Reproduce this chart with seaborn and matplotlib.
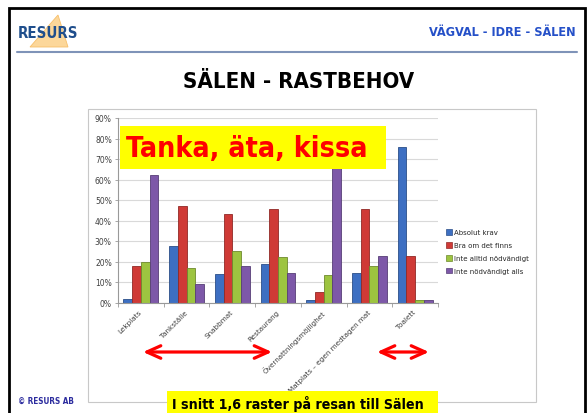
import numpy as np
import pandas as pd
import matplotlib
matplotlib.use('Agg')
import matplotlib.pyplot as plt
import matplotlib.colors as mcolors
import seaborn as sns
from matplotlib.patches import Rectangle, Polygon, FancyArrowPatch, Patch
from matplotlib.lines import Line2D
from matplotlib.ticker import PercentFormatter, FixedLocator, MultipleLocator

# andelar i procent
kategorier = ['Lekplats', 'Tankställe', 'Snabbmat', 'Restaurang',
              'Övernattningsmöjlighet', 'Matplats – egen medtagen mat', 'Toalett']
svar = ['Absolut krav', 'Bra om det finns', 'Inte alltid nödvändigt', 'Inte nödvändigt alls']
absolut_krav = [1.5, 27.5, 14, 19, 1, 14.5, 76]
bra_om_det_finns = [18, 47, 43, 45.5, 5, 45.5, 22.5]
inte_alltid = [20, 17, 25, 22, 13.5, 18, 1]
inte_alls = [62, 9, 18, 14.5, 80, 22.5, 1.3]
farger = ['#3d6fc2', '#cf3a36', '#9dc440', '#7d58a8']

W, H = 587, 414


def fx(x):
    return x / W


def fy(y):
    return 1 - y / H


def darker(c, f=0.7):
    r, g, b = mcolors.to_rgb(c)
    return (r * f, g * f, b * f)


def fit_width(txt, px):
    """Scale font size so the text is px pixels wide."""
    fig.canvas.draw()
    bb = txt.get_window_extent()
    txt.set_fontsize(txt.get_fontsize() * px / bb.width)


df = pd.DataFrame({
    'kategori': kategorier * 4,
    'svar': np.repeat(svar, len(kategorier)),
    'andel': absolut_krav + bra_om_det_finns + inte_alltid + inte_alls,
})

sns.set_theme(style='white')
plt.rcParams['font.family'] = ['DejaVu Sans']

fig = plt.figure(figsize=(W / 100, H / 100), dpi=100)
ax = fig.add_axes([fx(118), fy(303.5), fx(438) - fx(118), (303.5 - 119) / H])

sns.barplot(data=df, x='kategori', y='andel', hue='svar', order=kategorier,
            hue_order=svar, palette=farger, saturation=1, width=0.76,
            errorbar=None, legend=False, ax=ax)
for cont in ax.containers:
    for bar in cont:
        bar.set_edgecolor(darker(bar.get_facecolor()))
        bar.set_linewidth(0.6)

ax.set_xlim(-0.5, len(kategorier) - 0.5)
ax.set_ylim(0, 90)
ax.yaxis.set_major_locator(MultipleLocator(10))
ax.yaxis.set_major_formatter(PercentFormatter(100, decimals=0))
ax.grid(axis='y', color='#d9d9d9', lw=0.8)
ax.set_axisbelow(True)
ax.set_xlabel('')
ax.set_ylabel('')
for s in ['top', 'right']:
    ax.spines[s].set_visible(False)
for s in ['left', 'bottom']:
    ax.spines[s].set_color('#999999')
    ax.spines[s].set_linewidth(0.8)

ax.tick_params(axis='y', left=True, length=2.5, width=0.6, color='#999999',
               labelsize=5.5, labelcolor='#404040', pad=2)
ax.xaxis.set_minor_locator(FixedLocator(np.arange(-0.5, len(kategorier), 1)))
ax.tick_params(axis='x', which='minor', bottom=True, length=3, width=0.6, color='#999999')
ax.tick_params(axis='x', which='major', length=0, labelsize=5.2,
               labelcolor='#404040', pad=6)
for lbl in ax.get_xticklabels():
    lbl.set_rotation(45)
    lbl.set_ha('right')
    lbl.set_va('center')
    lbl.set_rotation_mode('anchor')

fig.legend(handles=[Patch(facecolor=c, edgecolor=darker(c), lw=0.5) for c in farger],
           labels=svar, loc='upper left', bbox_to_anchor=(fx(446), fy(230)),
           frameon=False, fontsize=5, handlelength=0.9, handleheight=0.9,
           handletextpad=0.3, labelspacing=0.95, borderpad=0, borderaxespad=0)

# ram runt bilden och diagrammet
fig.add_artist(Rectangle((fx(9), fy(420)), fx(585) - fx(9), (420 - 9) / H,
                         transform=fig.transFigure, fill=False, ec='black', lw=2, zorder=1))
fig.add_artist(Rectangle((fx(88), fy(403)), fx(536) - fx(88), (403 - 110) / H,
                         transform=fig.transFigure, fill=False, ec='#c8c8c8', lw=0.8, zorder=1))

# sidhuvud
fig.add_artist(Polygon([(fx(58), fy(16)), (fx(30), fy(48)), (fx(68), fy(48))],
                       closed=True, transform=fig.transFigure, fc='#fcd79a',
                       ec='#f7bf6a', lw=0.6, zorder=2))
t_logo = fig.text(fx(18), fy(34), 'RESURS', color='#1f4e8c', fontsize=10,
                  fontweight='bold', fontstretch='condensed', va='center', zorder=3)
t_head = fig.text(fx(576), fy(32), 'VÄGVAL - IDRE - SÄLEN', color='#2550c8', fontsize=8,
                  fontweight='bold', fontstretch='condensed', ha='right', va='center')
fig.add_artist(Line2D([fx(17), fx(577)], [fy(53), fy(53)], transform=fig.transFigure,
                      color='#7f93b8', lw=1.5))
t_title = fig.text(fx(299), fy(82), 'SÄLEN - RASTBEHOV', color='black', fontsize=16,
                   fontweight='bold', fontstretch='condensed', ha='center', va='center')

# gul rubrikruta i diagrammet
fig.add_artist(Rectangle((fx(120), fy(170)), fx(386) - fx(120), (170 - 127) / H,
                         transform=fig.transFigure, fc='#ffff00', ec='none', zorder=5))
t_tanka = fig.text(fx(126), fy(149), 'Tanka, äta, kissa', color='#ff0000', fontsize=20,
                   fontweight='bold', fontstretch='condensed', va='center', zorder=6)

# pilar under kategorierna
for x0, x1 in [(143, 272), (377, 429)]:
    fig.add_artist(FancyArrowPatch((fx(x0), fy(353)), (fx(x1), fy(353)),
                                   transform=fig.transFigure,
                                   arrowstyle='<->,head_length=1.0,head_width=0.45',
                                   mutation_scale=10, lw=2.3, color='#ff0000',
                                   shrinkA=0, shrinkB=0, zorder=4))

# sidfot
fig.add_artist(Rectangle((fx(167), fy(420)), fx(438) - fx(167), (420 - 392) / H,
                         transform=fig.transFigure, fc='#ffff00', ec='none', zorder=5))
t_snitt = fig.text(fx(172), fy(404), 'I snitt 1,6 raster på resan till Sälen', color='black',
                   fontsize=10, fontweight='bold', fontstretch='condensed', va='center', zorder=6)
t_copy = fig.text(fx(18), fy(401), '© RESURS AB', color='#2b2b9e', fontsize=5.5,
                  fontweight='bold', fontstretch='condensed', va='center')

for t, px in [(t_logo, 60), (t_head, 147), (t_title, 232), (t_tanka, 241),
              (t_snitt, 250), (t_copy, 56)]:
    fit_width(t, px)

fig.savefig('out.png', dpi=100)
